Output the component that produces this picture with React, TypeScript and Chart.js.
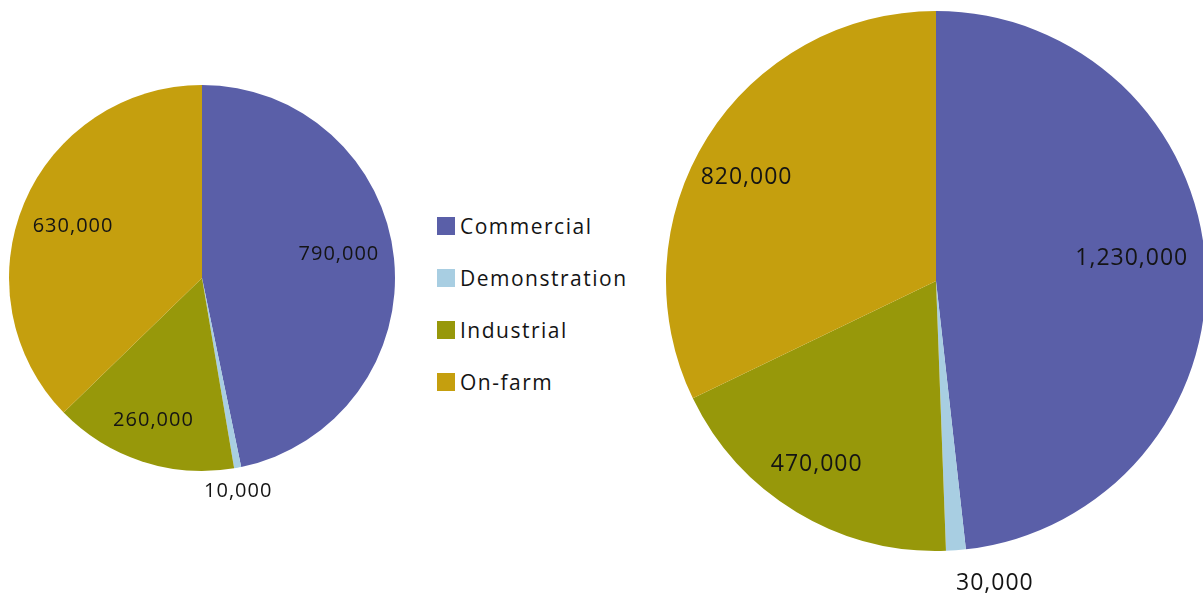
import React, { useEffect, useRef } from "react";
import { Chart, registerables } from "chart.js";

Chart.register(...registerables);

const categories = ["Commercial", "Demonstration", "Industrial", "On-farm"];
const leftValues = [790000, 10000, 260000, 630000];
const rightValues = [1230000, 30000, 470000, 820000];
const colors = ["#5A5FA8", "#A8CEE2", "#97980A", "#C59F0E"];

// label placement per slice: [radius fraction, angle nudge in degrees]
const leftLabelPlacement = [[0.72, -4], [1.12, 1], [0.78, 0.7], [0.72, -1]];
const rightLabelPlacement = [[0.73, -3.5], [1.14, -6.8], [0.81, 2], [0.8, -3.4]];

const fmt = (v: number) => v.toLocaleString("en-US");

function makeLabelPlugin(placement: number[][], fontSize: number) {
  return {
    id: "sliceLabels",
    afterDatasetsDraw(chart: any) {
      const ctx = chart.ctx;
      const meta = chart.getDatasetMeta(0);
      const data = chart.data.datasets[0].data as number[];
      ctx.save();
      ctx.font = `${fontSize}px "Open Sans"`;
      try { (ctx as any).letterSpacing = "1px"; } catch (e) {}
      ctx.fillStyle = "#141414";
      ctx.textAlign = "center";
      ctx.textBaseline = "middle";
      meta.data.forEach((arc: any, i: number) => {
        const p = arc.getProps(["x", "y", "startAngle", "endAngle", "outerRadius"], true);
        const mid = (p.startAngle + p.endAngle) / 2 + (placement[i][1] * Math.PI) / 180;
        const r = p.outerRadius * placement[i][0];
        ctx.fillText(fmt(data[i]), p.x + Math.cos(mid) * r, p.y + Math.sin(mid) * r);
      });
      ctx.restore();
    },
  };
}

function PieCanvas(props: {
  values: number[];
  placement: number[][];
  fontSize: number;
  left: number;
  width: number;
  padding: { left: number; right: number; top: number; bottom: number };
}) {
  const ref = useRef<HTMLCanvasElement | null>(null);
  useEffect(() => {
    if (!ref.current) return;
    const chart = new Chart(ref.current, {
      type: "pie",
      data: {
        labels: categories,
        datasets: [
          {
            data: props.values,
            backgroundColor: colors,
            borderWidth: 0,
          },
        ],
      },
      options: {
        animation: false,
        responsive: false,
        maintainAspectRatio: false,
        layout: { padding: props.padding },
        plugins: { legend: { display: false }, tooltip: { enabled: false } },
      },
      plugins: [makeLabelPlugin(props.placement, props.fontSize)],
    } as any);
    return () => chart.destroy();
  }, []);
  return (
    <canvas
      ref={ref}
      width={props.width}
      height={597}
      style={{ position: "absolute", left: props.left, top: 0, width: props.width, height: 597 }}
    />
  );
}

export default function App() {
  return (
    <div
      style={{
        position: "fixed",
        left: 0,
        top: 0,
        width: 1203,
        height: 597,
        overflow: "hidden",
        background: "#ffffff",
      }}
    >
      <PieCanvas
        values={leftValues}
        placement={leftLabelPlacement}
        fontSize={20}
        left={0}
        width={410}
        padding={{ left: 9, right: 15, top: 85, bottom: 126 }}
      />
      <PieCanvas
        values={rightValues}
        placement={rightLabelPlacement}
        fontSize={23}
        left={650}
        width={580}
        padding={{ left: 16, right: 24, top: 11, bottom: 46 }}
      />
      <div style={{ position: "absolute", left: 437, top: 200, fontFamily: '"Open Sans"', fontSize: 21, color: "#141414", letterSpacing: "1.5px" }}>
        {categories.map((c, i) => (
          <div key={c} style={{ display: "flex", alignItems: "center", height: 52, position: "relative" }}>
            <span style={{ display: "inline-block", width: 18, height: 18, background: colors[i], marginRight: 5 }} />
            <span style={{ lineHeight: "52px" }}>{c}</span>
          </div>
        ))}
      </div>
    </div>
  );
}
